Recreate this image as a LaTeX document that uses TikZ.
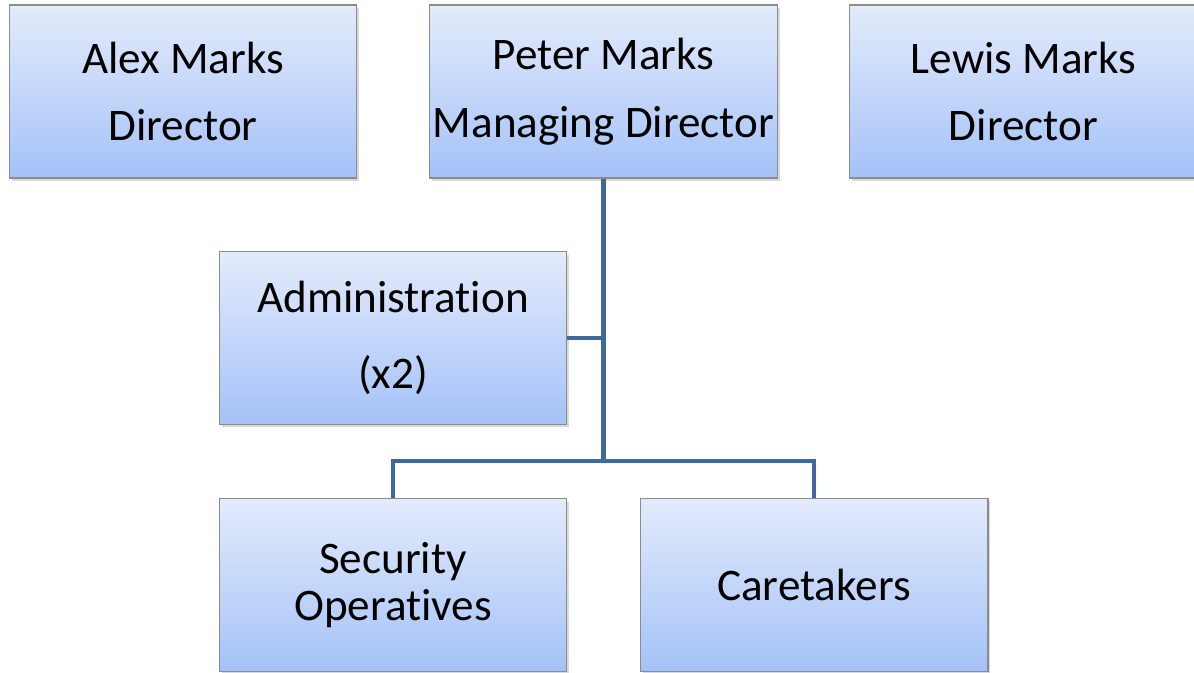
\documentclass[tikz,border=0pt]{standalone}
\usepackage{fontspec}
\setmainfont{Carlito}[Ligatures = NoCommon]
\usetikzlibrary{shadows}
\definecolor{boxtop}{HTML}{E3EBFB}
\definecolor{boxbottom}{HTML}{A4C2F8}
\definecolor{boxline}{HTML}{8C8C8C}
\definecolor{linkblue}{HTML}{41689A}
\tikzset{
role/.style = { rectangle, draw = boxline, line width = 0.6pt, top color = boxtop, bottom color = boxbottom, minimum width = 6.96cm, minimum height = 3.46cm, inner sep = 0pt, align = center, font = \fontsize{25.7}{38.6}\selectfont, drop shadow = {opacity = 0.3, shadow xshift = 0.5mm, shadow yshift = -0.6mm} },
link/.style = { draw = linkblue, line width = 2.4pt },
}

\begin{document}
\begin{tikzpicture}[x = 0.02cm, y = -0.02cm]
    \useasboundingbox (0, 0) rectangle (1194, 673);
    % directors
    \node[role] (alex) at (183, 91.5) {Alex Marks\\Director};
    \node[role] (peter) at (603.5, 91.5) {Peter Marks\\Managing Director};
    \node[role] (lewis) at (1023.5, 91.5) {Lewis Marks\\Director};
    % staff
    \node[role, font = \fontsize{25.7}{43.7}\selectfont] (admin) at (393, 338) {Administration\\(x2)};
    \node[role, font = \fontsize{25.7}{26.7}\selectfont] (security) at (393, 585) {Security\\Operatives};
    \node[role] (caretakers) at (814, 585) {Caretakers};
    % links
    \coordinate (adminjoin) at (peter.south |- admin.east);
    \coordinate (staffjoin) at (603.5, 461);
    \draw[link] (peter.south) -- (staffjoin);
    \draw[link] (admin.east) -- (adminjoin);
    \draw[link] (staffjoin) -| (security.north);
    \draw[link] (staffjoin) -| (caretakers.north);
\end{tikzpicture}
\end{document}
